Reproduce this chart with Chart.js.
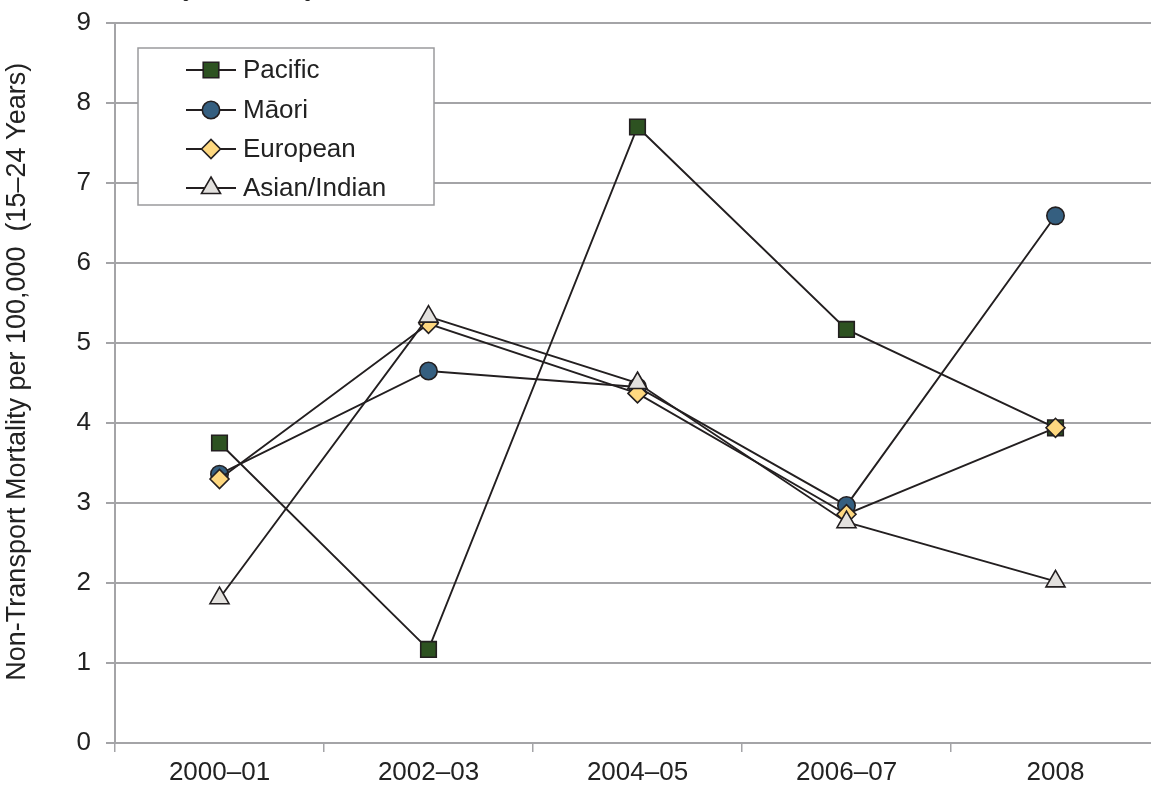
<!DOCTYPE html>
<html>
<head>
<meta charset="utf-8">
<script src="https://cdn.jsdelivr.net/npm/chart.js@4.4.1/dist/chart.umd.min.js"></script>
<style>
  html, body { margin: 0; padding: 0; background: #fff; overflow: hidden; }
  #wrap { position: relative; width: 1180px; height: 785px; }
  #heading {
    position: absolute; left: 166px; top: -30px;
    font: 30px/30px "Liberation Sans", Arial, sans-serif; color: #222;
    white-space: nowrap;
  }
</style>
</head>
<body>
<div id="wrap">
  <canvas id="chart" width="1180" height="785"></canvas>
  <div id="heading">by Ethnicity,</div>
</div>
<script>
// periods and rates per 100,000 (15–24 yrs)
const periods = ['2000–01', '2002–03', '2004–05', '2006–07', '2008'];
const pacific  = [3.75, 1.17, 7.70, 5.17, 3.94];
const maori    = [3.36, 4.65, 4.45, 2.97, 6.59];
const european = [3.30, 5.24, 4.37, 2.86, 3.94];
const asian    = [1.81, 5.33, 4.50, 2.76, 2.02];
const yTicks   = [0, 1, 2, 3, 4, 5, 6, 7, 8, 9];

const GRID = '#a4a4a7';
const INK = '#231f20';
const FONT = '"Liberation Sans", Arial, sans-serif';

function series(label, data, style, fill, radius, order) {
  return {
    label, data, order,
    borderColor: INK, borderWidth: 1.9,
    pointStyle: style, pointRadius: radius,
    pointBackgroundColor: fill, pointBorderColor: INK, pointBorderWidth: 1.6,
    tension: 0, fill: false
  };
}

// legend box drawn on the canvas, inside the plot
const boxLegend = {
  id: 'boxLegend',
  afterDraw(chart) {
    const ctx = chart.ctx;
    const x0 = 138, y0 = 48, w = 296, h = 157;
    ctx.save();
    ctx.fillStyle = '#fff';
    ctx.fillRect(x0, y0, w, h);
    ctx.strokeStyle = '#9a9a9d';
    ctx.lineWidth = 1.5;
    ctx.strokeRect(x0, y0, w, h);
    const rows = [70, 110, 149, 188];
    chart.data.datasets.forEach((ds, i) => {
      const y = rows[i];
      ctx.strokeStyle = INK;
      ctx.lineWidth = 1.9;
      ctx.beginPath();
      ctx.moveTo(186, y);
      ctx.lineTo(236, y);
      ctx.stroke();
      ctx.fillStyle = ds.pointBackgroundColor;
      ctx.strokeStyle = INK;
      ctx.lineWidth = 1.6;
      Chart.helpers.drawPoint(ctx, { pointStyle: ds.pointStyle, radius: ds.pointRadius, rotation: 0, borderWidth: 1.6 }, 211, y);
      ctx.fillStyle = '#222';
      ctx.font = '26px ' + FONT;
      ctx.textBaseline = 'middle';
      ctx.fillText(ds.label, 243, y + 1);
    });
    ctx.restore();
  }
};

new Chart(document.getElementById('chart'), {
  type: 'line',
  data: {
    labels: periods,
    datasets: [
      series('Pacific', pacific, 'rect', '#2d5221', 11, 4),
      series('Māori', maori, 'circle', '#355f80', 8.7, 3),
      series('European', european, 'rectRot', '#fed880', 9.5, 2),
      series('Asian/Indian', asian, 'triangle', '#e3e1de', 11, 1)
    ]
  },
  options: {
    responsive: false,
    animation: false,
    layout: { padding: { top: 23, right: 20, left: 0, bottom: 0 } },
    plugins: { legend: { display: false }, tooltip: { enabled: false } },
    scales: {
      x: {
        offset: true,
        grid: { offset: true, drawOnChartArea: false, color: GRID, lineWidth: 1.5, tickLength: 9 },
        border: { display: true, color: GRID, width: 2 },
        ticks: { color: '#222', font: { family: FONT, size: 26 }, padding: 5, maxRotation: 0 },
        afterFit: s => { s.height = 42; }
      },
      y: {
        min: yTicks[0], max: yTicks[yTicks.length - 1],
        afterBuildTicks: s => { s.ticks = yTicks.map(v => ({ value: v })); },
        grid: { color: GRID, lineWidth: 2, tickLength: 9 },
        border: { display: true, color: GRID, width: 2 },
        ticks: { color: '#222', font: { family: FONT, size: 26 }, padding: 15 },
        title: {
          display: true,
          text: '   Non-Transport Mortality per 100,000  (15–24 Years)',
          color: '#222', font: { family: FONT, size: 27 }, padding: { top: 1, bottom: 0 }
        },
        afterFit: s => { s.width = 115; s.paddingTop = 0; s.paddingBottom = 0; }
      }
    }
  },
  plugins: [boxLegend]
});
</script>
</body>
</html>
